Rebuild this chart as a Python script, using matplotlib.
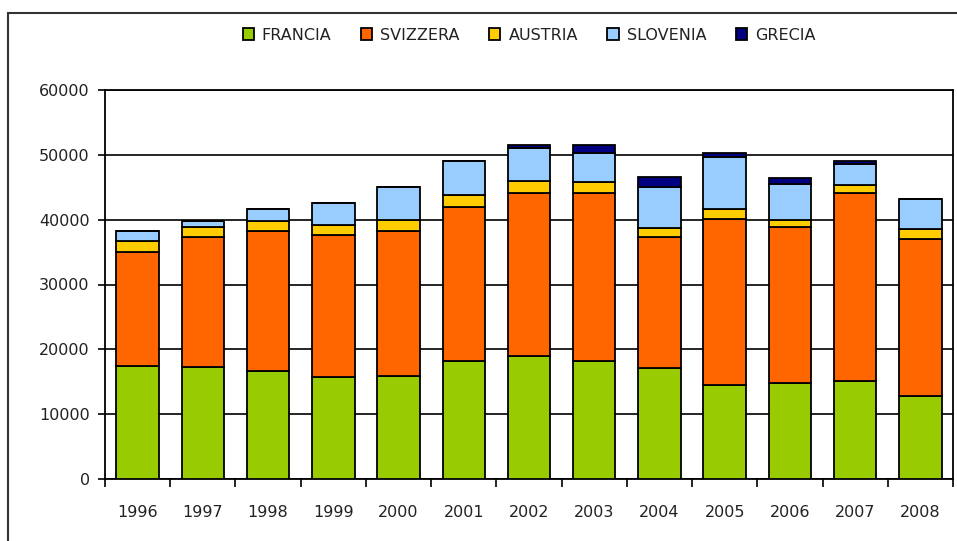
import matplotlib
matplotlib.use("Agg")
import matplotlib.pyplot as plt
import numpy as np
from matplotlib.patches import Rectangle

years = ["1996", "1997", "1998", "1999", "2000", "2001", "2002",
         "2003", "2004", "2005", "2006", "2007", "2008"]
francia  = [17500, 17200, 16600, 15700, 15950, 18150, 19000, 18150, 17150, 14450, 14800, 15050, 12850]
svizzera = [17500, 20100, 21600, 21950, 22300, 23800, 25050, 25900, 20100, 25600, 24000, 29050, 24100]
austria  = [1650, 1500, 1550, 1500, 1700, 1800, 1850, 1800, 1500, 1550, 1100, 1200, 1550]
slovenia = [1600, 1000, 1850, 3450, 5050, 5250, 5200, 4400, 6250, 8000, 5600, 3300, 4650]
grecia   = [0, 0, 0, 0, 0, 0, 400, 1300, 1550, 650, 1000, 400, 0]

series = [("FRANCIA", francia, "#99CC00"),
          ("SVIZZERA", svizzera, "#FF6600"),
          ("AUSTRIA", austria, "#FFCC00"),
          ("SLOVENIA", slovenia, "#99CCFF"),
          ("GRECIA", grecia, "#000080")]

plt.rcParams['font.family'] = ['DejaVu Sans']
TXT = "#222222"

fig = plt.figure(figsize=(9.57, 5.41), dpi=100)
ax = fig.add_axes([105/957, 62/541, 848/957, 389/541])

x = np.arange(len(years))
bottom = np.zeros(len(years))
handles = []
for name, vals, col in series:
    v = np.array(vals, dtype=float)
    b = ax.bar(x, v, 0.65, bottom=bottom, color=col, edgecolor="black",
               linewidth=1.3, label=name, zorder=3)
    handles.append(b)
    bottom += v

ax.set_xlim(-0.5, len(years) - 0.5)
ax.set_ylim(0, 60000)
ax.set_yticks(np.arange(0, 60001, 10000))
ax.set_yticklabels([str(v) for v in range(0, 60001, 10000)], fontsize=11.5, color=TXT)
ax.set_xticks(x)
ax.set_xticklabels(years, fontsize=11.5, color=TXT)
ax.set_xticks(np.arange(-0.5, len(years), 1), minor=True)
ax.tick_params(axis="x", which="major", length=0, pad=19)
ax.tick_params(axis="x", which="minor", length=6, width=1.2, direction="out")
ax.tick_params(axis="y", length=5, width=1.2, direction="out", pad=6)
ax.yaxis.grid(True, color="black", linewidth=1.2, zorder=0)
ax.set_axisbelow(True)
for s in ax.spines.values():
    s.set_linewidth(1.3)
    s.set_color("black")

leg = fig.legend(handles=handles, labels=[s[0] for s in series],
                 loc="center", bbox_to_anchor=(529/957, 1 - 35/541),
                 ncol=5, frameon=False, fontsize=11.5, handlelength=0.7,
                 handleheight=0.7, handletextpad=0.5, columnspacing=1.85,
                 borderaxespad=0, labelcolor=TXT)

fig.patches.append(Rectangle((8/957, -0.05), 1.0, 1 - 13/541 + 0.05,
                             transform=fig.transFigure, fill=False,
                             edgecolor="#333333", linewidth=1.5))

fig.savefig("out.png", dpi=100)
